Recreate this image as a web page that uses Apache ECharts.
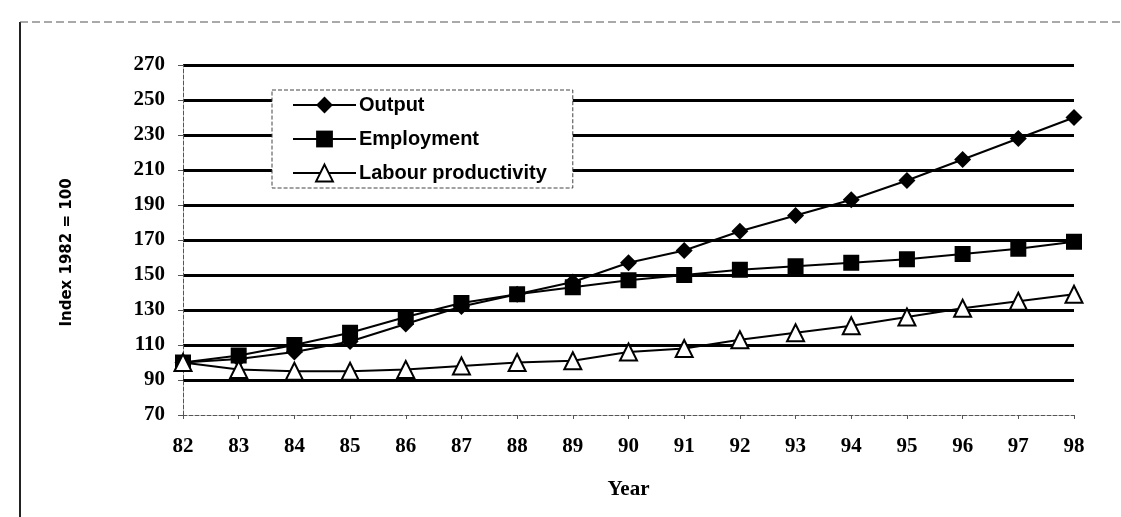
<!DOCTYPE html>
<html><head><meta charset="utf-8">
<script src="https://cdn.jsdelivr.net/npm/echarts@6/dist/echarts.min.js"></script>
<style>html,body{margin:0;padding:0;background:#fff}#c{width:1121px;height:517px}</style>
</head><body><div id="c"></div>
<script>
const years = ['82','83','84','85','86','87','88','89','90','91','92','93','94','95','96','97','98'];
const output = [100,102,106,112,122,132,139,146,157,164,175,184,193,204,216,228,240];
const employment = [100,104,110,117,126,134,139,143,147,150,153,155,157,159,162,165,169];
const productivity = [100,96,95,95,96,98,100,101,106,108,113,117,121,126,131,135,139];
const seriesNames = ['Output','Employment','Labour productivity'];

const chart = echarts.init(document.getElementById('c'));
const serif = '"Liberation Serif","Times New Roman",serif';
const sans = '"Liberation Sans",Arial,sans-serif';
chart.setOption({
  animation:false,
  backgroundColor:'#fff',
  graphic:[
    {type:'line',shape:{x1:20,y1:22,x2:20,y2:517},style:{stroke:'#222',lineWidth:2}},
    {type:'line',shape:{x1:20,y1:22,x2:1121,y2:22},style:{stroke:'#555',lineWidth:1,lineDash:[8,4]}}
  ],
  grid:{left:183,right:47,top:65,bottom:102},
  legend:{
    orient:'vertical',left:272,top:90,
    data:seriesNames,
    backgroundColor:'#fff',
    borderColor:'#444',borderWidth:1,borderType:'dashed',
    padding:[5,26,5,20],
    itemGap:14,itemWidth:63,itemHeight:21,
    textStyle:{fontFamily:sans,fontWeight:'bold',fontSize:20,color:'#000',padding:[0,0,0,-2]}
  },
  xAxis:{
    type:'category',data:years,boundaryGap:false,
    name:'Year',nameLocation:'middle',nameGap:64,
    nameTextStyle:{fontFamily:serif,fontWeight:'bold',fontSize:21,color:'#000'},
    axisLine:{lineStyle:{color:'#555',width:1,type:'dashed'}},
    axisTick:{show:true,length:4,lineStyle:{color:'#555'}},
    axisLabel:{fontFamily:serif,fontWeight:'bold',fontSize:21,color:'#000',margin:21}
  },
  yAxis:{
    type:'value',min:70,max:270,interval:20,
    name:'Index 1982 = 100',nameLocation:'middle',nameGap:108,
    nameTextStyle:{fontFamily:'"DejaVu Sans",sans-serif',fontWeight:'bold',fontSize:15,color:'#000',padding:[0,25,0,0]},
    axisLine:{show:true,lineStyle:{color:'#555',width:1,type:'dashed'}},
    axisTick:{show:true,length:5,lineStyle:{color:'#555'}},
    axisLabel:{fontFamily:serif,fontWeight:'bold',fontSize:21,color:'#000',margin:18},
    splitLine:{show:true,showMinLine:false,lineStyle:{color:'#000',width:3}}
  },
  series:[
    {name:seriesNames[0],type:'line',data:output,symbol:'diamond',symbolSize:17,
     lineStyle:{color:'#000',width:2},itemStyle:{color:'#000'},z:3},
    {name:seriesNames[1],type:'line',data:employment,symbol:'rect',symbolSize:16,
     lineStyle:{color:'#000',width:2},itemStyle:{color:'#000'},z:4},
    {name:seriesNames[2],type:'line',data:productivity,symbol:'triangle',symbolSize:17,
     lineStyle:{color:'#000',width:2},itemStyle:{color:'#fff',borderColor:'#000',borderWidth:2},z:5}
  ]
});
</script></body></html>
